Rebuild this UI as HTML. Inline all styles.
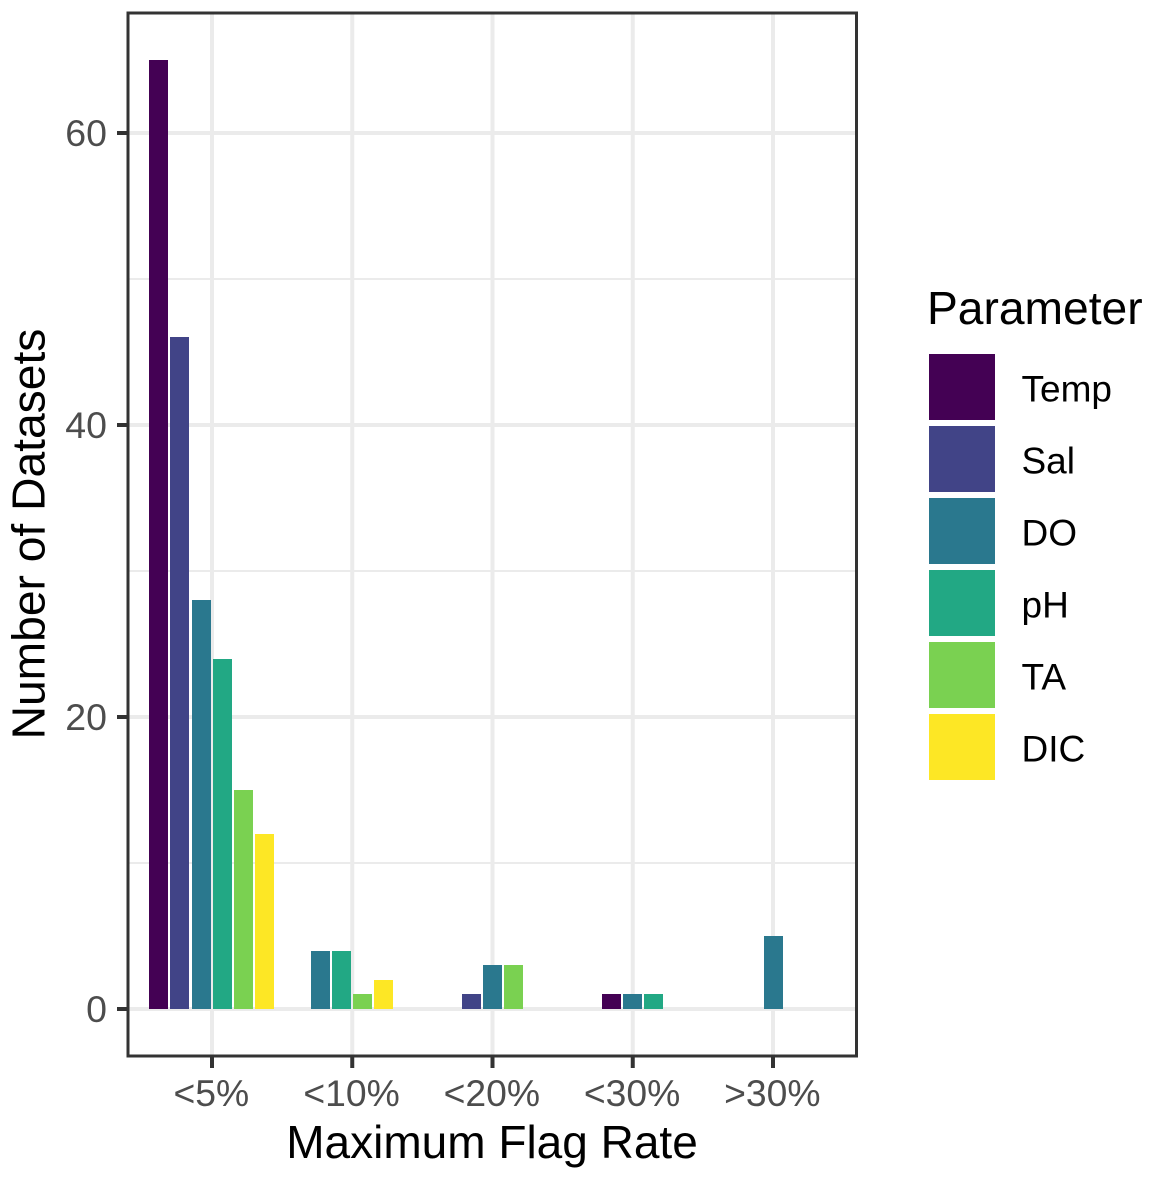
<!DOCTYPE html>
<html><head><meta charset="utf-8"><title>Maximum Flag Rate</title>
<style>html,body{margin:0;padding:0;background:#fff}svg{display:block}text{font-family:"Liberation Sans",Arial,sans-serif}</style></head>
<body>
<svg id="chart" xmlns="http://www.w3.org/2000/svg" width="1155" height="1180" viewBox="0 0 1155 1180">
<rect width="1155" height="1180" fill="#fff"/>
</svg>
<script>
const categories = ["<5%", "<10%", "<20%", "<30%", ">30%"];
const seriesNames = ["Temp", "Sal", "DO", "pH", "TA", "DIC"];
const seriesColors = ["#440154", "#414487", "#2A788E", "#22A884", "#7AD151", "#FDE725"];
const temp = [65, 0, 0, 1, 0];
const sal = [46, 0, 1, 0, 0];
const dissolvedOxygen = [28, 4, 3, 1, 5];
const ph = [24, 4, 0, 1, 0];
const ta = [15, 1, 3, 0, 0];
const dic = [12, 2, 0, 0, 0];
const yMajorTicks = [0, 20, 40, 60];
const yMinorTicks = [10, 30, 50];
const allSeries = [temp, sal, dissolvedOxygen, ph, ta, dic];

const NS = "http://www.w3.org/2000/svg";
const svg = document.getElementById("chart");
const panel = {left: 128, top: 13, right: 856.5, bottom: 1056};
const xScale = i => 212 + 140.25 * i;
const barCentre = i => 211.55 + 140.4 * i;
const yScale = v => 1009 - 14.6 * v;
const barStep = 21.1, barWidth = 19;

function make(tag, attrs, text) {
  const el = document.createElementNS(NS, tag);
  for (const k in attrs) el.setAttribute(k, attrs[k]);
  if (text !== undefined) el.textContent = text;
  svg.appendChild(el);
  return el;
}

// gridlines
yMinorTicks.forEach(v => {
  const el = make("line", {x1: panel.left, x2: panel.right, y1: yScale(v), y2: yScale(v), stroke: "#EBEBEB", "stroke-width": 2});
  
  
});
yMajorTicks.forEach(v => {
  const el = make("line", {x1: panel.left, x2: panel.right, y1: yScale(v), y2: yScale(v), stroke: "#EBEBEB", "stroke-width": 4});
  
  
});
categories.forEach((c, i) => {
  const el = make("line", {x1: xScale(i), x2: xScale(i), y1: panel.top, y2: panel.bottom, stroke: "#EBEBEB", "stroke-width": 4});
  
  
});

// bars, dodged among the non-zero series of each category
categories.forEach((c, i) => {
  const present = [];
  allSeries.forEach((s, j) => { if (s[i] > 0) present.push(j); });
  present.forEach((j, k) => {
    const centre = barCentre(i) + (k - (present.length - 1) / 2) * barStep;
    const y = Math.round(yScale(allSeries[j][i]));
    const el = make("rect", {x: Math.round(centre - barWidth / 2), y: y, width: barWidth, height: yScale(0) - y, fill: seriesColors[j]});
    
    
  });
});

// panel border
const border = make("rect", {x: panel.left, y: panel.top, width: panel.right - panel.left, height: panel.bottom - panel.top, fill: "none", stroke: "#333333", "stroke-width": 3});



// y axis ticks and labels
yMajorTicks.forEach(v => {
  const t = make("line", {x1: 117, x2: panel.left, y1: yScale(v), y2: yScale(v), stroke: "#333333", "stroke-width": 4});
  
  
  const l = make("text", {x: 107, y: yScale(v) + 13, "text-anchor": "end", "font-size": 37.5, fill: "#4D4D4D"}, String(v));
  
  
});

// x axis ticks and labels
categories.forEach((c, i) => {
  const t = make("line", {x1: xScale(i), x2: xScale(i), y1: panel.bottom, y2: 1068, stroke: "#333333", "stroke-width": 4});
  
  
  const l = make("text", {x: xScale(i) - 0.7, y: 1106, "text-anchor": "middle", "font-size": 37.3, fill: "#4D4D4D"}, c);
  
  
});

// axis titles
const xTitle = make("text", {x: 492, y: 1158, "text-anchor": "middle", "font-size": 46, fill: "#000"}, "Maximum Flag Rate");


const yTitle = make("text", {x: 44.5, y: 534, "text-anchor": "middle", "font-size": 46.2, fill: "#000", transform: "rotate(-90 44.5 534)"}, "Number of Datasets");



// legend
const legendTitle = make("text", {x: 927, y: 324, "font-size": 46.2, fill: "#000"}, "Parameter");


seriesNames.forEach((n, j) => {
  const key = make("rect", {x: 929, y: 354 + 72 * j, width: 66, height: 66, fill: seriesColors[j]});
  
  
  const lab = make("text", {x: 1021.5, y: 401.5 + 72 * j, "font-size": 37, fill: "#000"}, n);
  
  
});
</script>
</body></html>
